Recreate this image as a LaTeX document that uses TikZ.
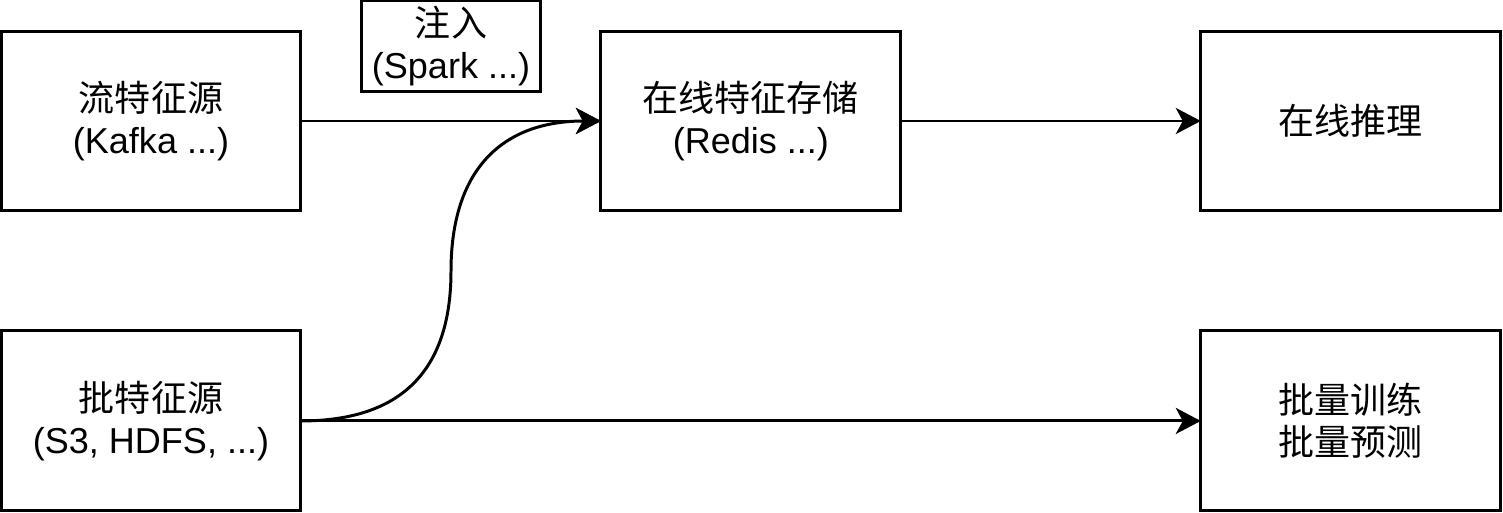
\documentclass[tikz,border=0pt]{standalone}
\usepackage{fontspec}
\setmainfont{Liberation Sans}
\newfontfamily\cjk{Noto Sans CJK SC}
\usetikzlibrary{arrows.meta,positioning}

\begin{document}
\begin{tikzpicture}[
  x=0.02cm, y=-0.02cm,
  node distance=2.4cm and 6cm,
  block/.style={rectangle, draw=black, line width=1.7pt, fill=white,
    outer sep=0pt, minimum width=6cm, minimum height=3.6cm, align=center,
    font=\fontsize{20.5}{24}\selectfont},
  tag/.style={rectangle, draw=black, line width=1.7pt, fill=white,
    outer sep=0pt, minimum width=3.6cm, minimum height=1.8cm, align=center,
    font=\fontsize{20.5}{24}\selectfont},
  arr/.style={-{Stealth[length=0.5cm, width=0.52cm, inset=0.14cm]}, line width=1.7pt},
]
\useasboundingbox (0,0) rectangle (1503,513);

\node[block] (stream) at (151,121) {{\cjk 流特征源}\\(Kafka ...)};
\node[block, below=of stream] (batch) {{\cjk 批特征源}\\(S3, HDFS, ...)};
\node[block, right=of stream] (store) {{\cjk 在线特征存储}\\(Redis ...)};
\node[block, right=of store] (serve) {\cjk 在线推理};
\node[block, right=of batch, xshift=12cm] (train) {{\cjk 批量训练}\\{\cjk 批量预测}};
\node[tag] (spark) at (451,46) {{\cjk 注入}\\(Spark ...)};

\coordinate (bend) at (451,271);

\draw[arr] (stream) -- (store);
\draw[arr] (store) -- (serve);
\draw[arr] (batch) -- (train);
\draw[arr] (batch.east) .. controls +(100,0) and (451,371) .. (bend)
  .. controls (451,171) and +(-100,0) .. (store.west);
\end{tikzpicture}
\end{document}
